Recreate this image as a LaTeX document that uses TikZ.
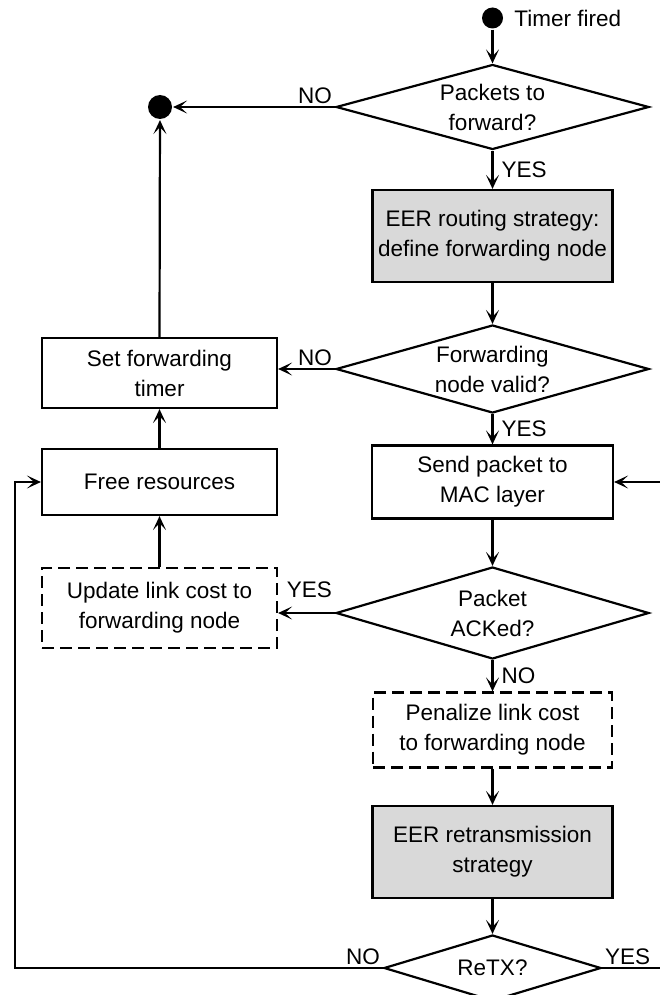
\documentclass[tikz,border=0pt]{standalone}
\usepackage{fontspec}
\setmainfont{Liberation Sans}
\usetikzlibrary{shapes.geometric,arrows.meta}
\begin{document}
\begin{tikzpicture}[x=1pt,y=-1pt,
  font=\fontsize{22.5}{30}\selectfont,
  line width=2.2pt,
  arr/.style={-{Stealth[length=14pt,width=13pt,inset=7pt]}},
  proc/.style={draw,rectangle,align=center,inner sep=0pt},
  shaded/.style={proc,fill=black!15},
  optional/.style={proc,dash pattern=on 12pt off 6pt},
  decision/.style={draw,diamond,align=center,inner sep=-6pt,shape aspect=#1},
  dot/.style={circle,fill=black,inner sep=0pt},
  lbl/.style={inner sep=2pt}
]
\useasboundingbox (0,0) rectangle (660,995);

% right column
\node[dot,minimum size=21pt] (start) at (492.5,18) {};
\node[anchor=west] (startlbl) at (510,18) {Timer fired};
\node[decision=3.6,minimum width=313pt,minimum height=85pt] (d1) at (492.5,107) {Packets to\\forward?};
\node[shaded,minimum width=240pt,minimum height=92pt] (route) at (492.5,236) {EER routing strategy:\\define forwarding node};
\node[decision=3.6,minimum width=313pt,minimum height=88pt] (d2) at (492.5,369) {Forwarding\\node valid?};
\node[proc,minimum width=241pt,minimum height=73pt] (send) at (492.5,482) {Send packet to\\MAC layer};
\node[decision=3.4,minimum width=313pt,minimum height=92pt] (d3) at (492.5,613) {Packet\\ACKed?};
\node[optional,minimum width=239pt,minimum height=75pt] (penal) at (492.5,730) {Penalize link cost\\to forwarding node};
\node[shaded,minimum width=240pt,minimum height=92pt] (retx) at (492.5,852) {EER retransmission\\strategy};
\node[decision=3.3,minimum width=217pt,minimum height=66pt] (d4) at (492.5,968) {ReTX?};

% left column
\node[dot,minimum size=24pt] (stop) at (160,107) {};
\node[proc,minimum width=235pt,minimum height=70pt] (timer) at (159.5,373) {Set forwarding\\timer};
\node[proc,minimum width=235pt,minimum height=66pt] (free) at (159.5,482) {Free resources};
\node[optional,minimum width=235pt,minimum height=80pt] (update) at (159.5,608) {Update link cost to\\forwarding node};

% loop corners
\coordinate (lb) at (15,968);
\coordinate (lt) at (15,482);
\coordinate (rb) at (690,968);
\coordinate (rt) at (690,482);

% connectors
\draw[arr] (start) -- (d1);
\draw[arr] (d1.west) -- node[lbl,pos=0,anchor=south east] {NO} (stop);
\draw[arr] (d1.south) -- node[lbl,midway,right=6pt] {YES} (route.north);
\draw[arr] (route.south) -- (d2.north);
\draw[arr] (d2.west) -- node[lbl,pos=0,anchor=south east] {NO} (timer.east |- d2.west);
\draw[arr] (d2.south) -- node[lbl,midway,right=6pt] {YES} (send.north);
\draw[arr] (send.south) -- (d3.north);
\draw[arr] (d3.west) -- node[lbl,pos=0,anchor=south east,yshift=12pt] {YES} (update.east |- d3.west);
\draw[arr] (d3.south) -- node[lbl,midway,right=6pt] {NO} (penal.north);
\draw[arr] (penal.south) -- (retx.north);
\draw[arr] (retx.south) -- (d4.north);
\draw[arr] (timer.north) -- (stop);
\draw[arr] (free.north) -- (timer.south);
\draw[arr] (update.north) -- (free.south);
\draw[arr] (d4.west) -- node[lbl,pos=0,anchor=south east] {NO} (lb) -- (lt) -- (free.west);
\draw[arr] (d4.east) -- node[lbl,pos=0,anchor=south west] {YES} (rb) -- (rt) -- (send.east);
\end{tikzpicture}
\end{document}
